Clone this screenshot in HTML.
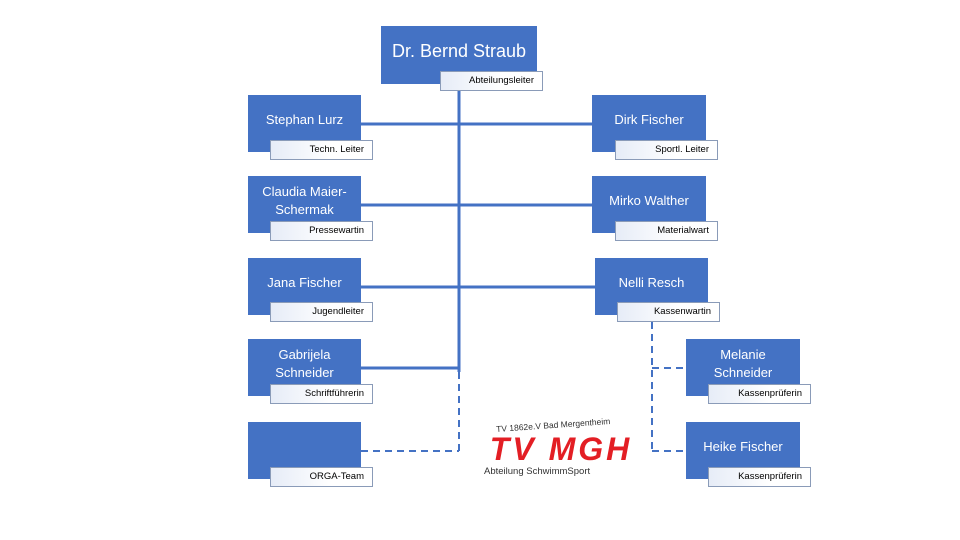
<!DOCTYPE html>
<html><head><style>
body{margin:0;width:960px;height:540px;background:#fff;position:relative;overflow:hidden;font-family:"Liberation Sans",sans-serif}
.b{position:absolute;background:#4472C4;color:#fff;display:flex;align-items:center;justify-content:center;text-align:center;font-size:13px;line-height:18px;box-sizing:border-box;padding-bottom:8px}
.l{position:absolute;width:103px;height:20px;box-sizing:border-box;border:1px solid #8a9bb8;background:linear-gradient(90deg,#e6ecf7,#fff 60%);font-size:9.5px;color:#000;text-align:right;padding-right:8px;line-height:18px;white-space:nowrap}
svg{position:absolute;left:0;top:0}
</style></head><body>
<svg width="960" height="540">
<g stroke="#4472C4" stroke-width="3" fill="none">
<line x1="459" y1="88" x2="459" y2="372"/>
<line x1="361" y1="124" x2="592" y2="124"/>
<line x1="361" y1="205" x2="592" y2="205"/>
<line x1="361" y1="287" x2="595" y2="287"/>
<line x1="361" y1="368" x2="459" y2="368"/>
<g stroke-width="2" stroke-dasharray="7,5">
<line x1="459" y1="372" x2="459" y2="451"/>
<line x1="361" y1="451" x2="459" y2="451"/>
<line x1="652" y1="322" x2="652" y2="451"/>
<line x1="652" y1="368" x2="686" y2="368"/>
<line x1="652" y1="451" x2="686" y2="451"/>
</g></g>
</svg>
<div class="b" style="left:381px;top:26px;width:156px;height:58px;font-size:18px">Dr. Bernd Straub</div>
<div class="l" style="left:440px;top:71px">Abteilungsleiter</div>

<div class="b" style="left:248px;top:95px;width:113px;height:57px">Stephan Lurz</div>
<div class="l" style="left:270px;top:140px">Techn. Leiter</div>
<div class="b" style="left:248px;top:176px;width:113px;height:57px">Claudia Maier-<br>Schermak</div>
<div class="l" style="left:270px;top:221px">Pressewartin</div>
<div class="b" style="left:248px;top:258px;width:113px;height:57px">Jana Fischer</div>
<div class="l" style="left:270px;top:302px">Jugendleiter</div>
<div class="b" style="left:248px;top:339px;width:113px;height:57px">Gabrijela<br>Schneider</div>
<div class="l" style="left:270px;top:384px">Schriftführerin</div>
<div class="b" style="left:248px;top:422px;width:113px;height:57px"></div>
<div class="l" style="left:270px;top:467px">ORGA-Team</div>

<div class="b" style="left:592px;top:95px;width:114px;height:57px">Dirk Fischer</div>
<div class="l" style="left:615px;top:140px">Sportl. Leiter</div>
<div class="b" style="left:592px;top:176px;width:114px;height:57px">Mirko Walther</div>
<div class="l" style="left:615px;top:221px">Materialwart</div>
<div class="b" style="left:595px;top:258px;width:113px;height:57px">Nelli Resch</div>
<div class="l" style="left:617px;top:302px">Kassenwartin</div>
<div class="b" style="left:686px;top:339px;width:114px;height:57px">Melanie<br>Schneider</div>
<div class="l" style="left:708px;top:384px">Kassenprüferin</div>
<div class="b" style="left:686px;top:422px;width:114px;height:57px">Heike Fischer</div>
<div class="l" style="left:708px;top:467px">Kassenprüferin</div>

<div style="position:absolute;left:482px;top:418px;width:160px;height:62px;white-space:nowrap">
<div style="position:absolute;left:14px;top:2px;font-size:8.5px;color:#333;transform:rotate(-4deg)">TV 1862e.V Bad Mergentheim</div>
<div style="position:absolute;left:0;top:14px;width:158px;text-align:center;font-size:32px;line-height:34px;font-weight:bold;font-style:italic;color:#e31e24;letter-spacing:3px">TV MGH</div>
<div style="position:absolute;left:2px;top:48px;font-size:9.5px;color:#333">Abteilung SchwimmSport</div>
</div>
</body></html>
